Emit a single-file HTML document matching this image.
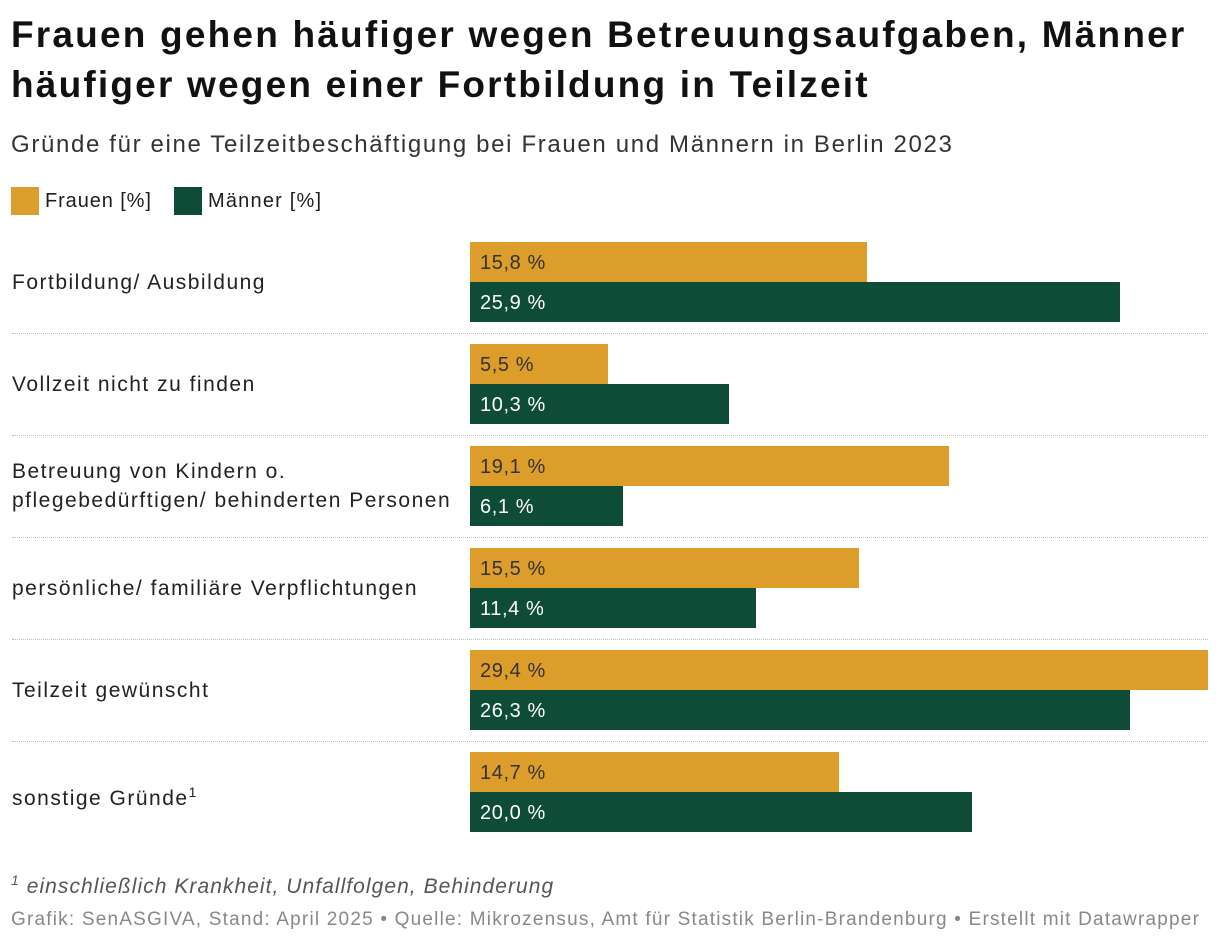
<!DOCTYPE html>
<html><head><meta charset="utf-8"><style>
body{margin:0;width:1220px;height:948px;background:#fff;font-family:"Liberation Sans",sans-serif;color:#1d1d1d;position:relative;overflow:hidden}
.abs{position:absolute;white-space:nowrap}
h1{position:absolute;left:11px;top:10px;margin:0;font-size:37px;line-height:50px;font-weight:bold;letter-spacing:2.2px;color:#111;white-space:nowrap}
.lab{position:absolute;left:12px;font-size:21px;line-height:29px;color:#222;letter-spacing:1.5px;white-space:nowrap}
.sep{position:absolute;left:12px;width:1196px;border-top:1px dotted #bbb}
.bar{position:absolute;left:470px;height:40px}
.val{position:absolute;left:480px;font-size:20px;line-height:40px;letter-spacing:0.6px}
</style></head><body>
<h1>Frauen gehen häufiger wegen Betreuungsaufgaben, Männer<br>häufiger wegen einer Fortbildung in Teilzeit</h1>
<div class="abs" style="left:11px;top:131px;font-size:24px;color:#333;letter-spacing:1.65px">Gründe für eine Teilzeitbeschäftigung bei Frauen und Männern in Berlin 2023</div>
<div class="abs" style="left:11px;top:187px;font-size:20px;line-height:28px;letter-spacing:0.9px"><span style="display:inline-block;width:28px;height:28px;background:#dc9d2a;vertical-align:top;margin-right:6px"></span>Frauen [%]</div>
<div class="abs" style="left:174px;top:187px;font-size:20px;line-height:28px;letter-spacing:1.2px"><span style="display:inline-block;width:28px;height:28px;background:#0f4c38;vertical-align:top;margin-right:6px"></span>Männer [%]</div>
<div id="chart"></div>
<div class="abs" style="left:11px;top:872px;font-size:21px;font-style:italic;color:#555;letter-spacing:1.05px"><sup style="font-size:14px">1</sup> einschließlich Krankheit, Unfallfolgen, Behinderung</div>
<div class="abs" style="left:11px;top:909px;font-size:19px;color:#888;letter-spacing:1.2px">Grafik: SenASGIVA, Stand: April 2025 • Quelle: Mikrozensus, Amt für Statistik Berlin-Brandenburg • Erstellt mit Datawrapper</div>
<script>
const categories=["Fortbildung/ Ausbildung","Vollzeit nicht zu finden","Betreuung von Kindern o.<br>pflegebedürftigen/ behinderten Personen","persönliche/ familiäre Verpflichtungen","Teilzeit gewünscht","sonstige Gründe<sup style=\"font-size:14px\">1</sup>"];
const frauen=[15.8,5.5,19.1,15.5,29.4,14.7];
const maenner=[25.9,10.3,6.1,11.4,26.3,20.0];
const maxVal=29.4;
const c=document.getElementById('chart');
const x=v=>v/maxVal*738;
const fmt=v=>v.toFixed(1).replace('.',',')+' %';
categories.forEach((cat,i)=>{
 const top=242+i*102;
 const l=document.createElement('div');l.className='lab';
 
 
 l.innerHTML=cat;c.appendChild(l);
 const lines=cat.includes('<br>')?2:1;
 l.style.top=(top+40-lines*29/2)+'px';
 [[frauen[i],'#dc9d2a','#333','bar-frauen'],[maenner[i],'#0f4c38','#fff','bar-maenner']].forEach((s,j)=>{
  const b=document.createElement('div');b.className='bar';
  
  
  b.style.top=(top+j*40)+'px';b.style.width=x(s[0])+'px';b.style.background=s[1];c.appendChild(b);
  const t=document.createElement('div');t.className='val';
  
  
  t.style.top=(top+j*40+1)+'px';t.style.color=s[2];t.textContent=fmt(s[0]);c.appendChild(t);
 });
 if(i<categories.length-1){const d=document.createElement('div');d.className='sep';
  
  
  d.style.top=(top+91)+'px';c.appendChild(d);}
});
</script>
</body></html>
